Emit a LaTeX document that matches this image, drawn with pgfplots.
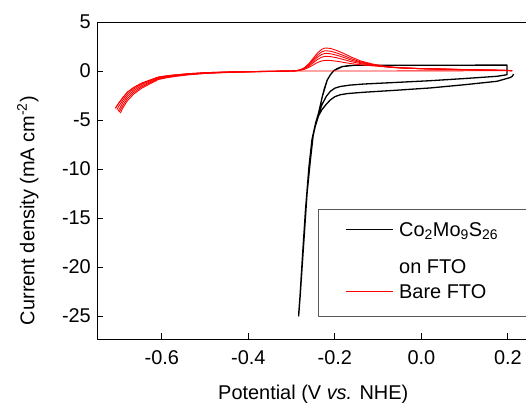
\documentclass[border=0pt]{standalone}
\usepackage{fontspec}
\setmainfont{Liberation Sans}
\usepackage{pgfplots}
\pgfplotsset{compat=1.18}
\newcommand{\fs}{\fontsize{20}{24}\selectfont}
\begin{document}
\begin{tikzpicture}
\path[use as bounding box] (-97bp,-64bp) rectangle (429bp,339bp);
\begin{axis}[
  at={(0,0)}, anchor=south west,
  scale only axis, width=432.5bp, height=317bp,
  xmin=-0.75, xmax=0.25, ymin=-27.35, ymax=5,
  xtick={-0.6,-0.4,-0.2,0,0.2}, xticklabels={-0.6,-0.4,-0.2,0.0,0.2},
  ytick={-25,-20,-15,-10,-5,0,5}, yticklabels={-25,-20,-15,-10,-5,0,5},
  minor tick num=0,
  tick align=inside, tick pos=left,
  major tick length=5.7bp,
  axis line style={line width=0.9bp},
  every tick/.style={black, line width=0.9bp},
  tick label style={font=\fs},
  xticklabel style={inner sep=0pt, yshift=-11.7bp},
  yticklabel style={inner sep=0pt, xshift=-6bp},
  xlabel={Potential (V \textit{vs.} NHE)},
  ylabel={Current density (mA cm\textsuperscript{-2})},
  label style={font=\fs},
  xlabel style={at={(axis description cs:0.5,-0.145)}, anchor=north, inner sep=0pt},
  ylabel style={at={(axis description cs:-0.185,0.405)}, anchor=north, inner sep=0pt},
  legend style={at={(axis description cs:0.510,0.410)}, anchor=north west,
    draw=black!65, line width=0.6bp, inner xsep=27bp, inner ysep=13bp,
    column sep=6bp, row sep=10.7bp, font=\fs,
    nodes={inner sep=0pt, text height=14.5bp, text depth=0bp},
    cells={anchor=base west}},
  legend image code/.code={\draw[#1] (0bp,7bp) -- (47bp,7bp);},
  line join=round,
]
% Co2Mo9S26 on FTO (two cycles)
\addplot[black, line width=1.3bp] coordinates {
(0.2134,-0.31) (0.2100,-0.55) (0.2058,-0.66) (0.1900,-0.86) (0.1750,-1.05)
(0.1000,-1.40) (0.0208,-1.73) (-0.0600,-1.97) (-0.1334,-2.17) (-0.1700,-2.30)
(-0.1873,-2.42) (-0.2000,-2.62) (-0.2104,-2.95) (-0.2200,-3.40) (-0.2300,-3.95)
(-0.2380,-4.60) (-0.2450,-5.60) (-0.2500,-6.50) (-0.2566,-9.10) (-0.2643,-12.5)
(-0.2721,-17.6) (-0.2798,-22.7) (-0.2837,-25.0)
(-0.2810,-23.3) (-0.2750,-19.0) (-0.2680,-14.2) (-0.2600,-9.8) (-0.2530,-7.0)
(-0.2450,-5.4) (-0.2382,-4.4) (-0.2330,-3.4) (-0.2296,-2.7) (-0.2240,-1.75)
(-0.2180,-0.95) (-0.2104,-0.38) (-0.2028,0.02) (-0.1950,0.24) (-0.1834,0.44)
(-0.1700,0.54) (-0.1550,0.58) (0.0000,0.59) (0.1980,0.60) (0.1980,-0.38)
(0.1750,-0.54) (0.1000,-0.77) (0.0208,-0.99) (-0.0600,-1.17) (-0.1334,-1.33)
(-0.1650,-1.44) (-0.1873,-1.58) (-0.2000,-1.75) (-0.2104,-2.07) (-0.2200,-2.60)
(-0.2300,-3.45) (-0.2380,-4.40) (-0.2450,-5.50) (-0.2510,-6.80) (-0.2570,-9.2)
(-0.2645,-12.6) (-0.2722,-17.7) (-0.2800,-22.8) (-0.2835,-24.7)
(-0.2805,-22.9) (-0.2745,-18.6) (-0.2675,-13.9) (-0.2595,-9.6) (-0.2525,-6.9)
(-0.2445,-5.3) (-0.2378,-4.3) (-0.2290,-2.6) (-0.2175,-0.90) (-0.2100,-0.36)
(-0.2025,0.03) (-0.1830,0.45) (-0.1550,0.58) (0.1980,0.60)
};
\addlegendentry{\makebox[100bp][l]{Co\textsubscript{2}Mo\textsubscript{9}S\textsubscript{26}}}
\addlegendimage{empty legend}
\addlegendentry[text height=0pt, text depth=0pt]{\mbox{}}
\addlegendimage{empty legend}
\addlegendentry{on FTO}
% Bare FTO: forward sweep
\addplot[red, line width=0.9bp] coordinates {
(0.21,0.03) (0.10,0.02) (0.00,0.01) (-0.10,0.00) (-0.20,0.00) (-0.30,0.00)
(-0.350,-0.03) (-0.400,-0.06) (-0.450,-0.10) (-0.500,-0.17) (-0.540,-0.28)
(-0.570,-0.40) (-0.590,-0.50) (-0.608,-0.62) (-0.627,-0.92) (-0.647,-1.25)
(-0.665,-1.68) (-0.680,-2.18) (-0.690,-2.70) (-0.700,-3.30) (-0.7075,-3.80)
};
\addlegendentry[text depth=4bp]{Bare FTO}
% Bare FTO: return sweeps, 5 cycles
\addplot[red, line width=0.9bp, forget plot] coordinates {
(-0.7075,-3.80) (-0.700,-3.30) (-0.690,-2.70) (-0.680,-2.18) (-0.665,-1.68)
(-0.647,-1.25) (-0.627,-0.92) (-0.608,-0.62) (-0.590,-0.50) (-0.570,-0.40)
(-0.540,-0.28) (-0.500,-0.17) (-0.450,-0.10) (-0.400,-0.06) (-0.350,-0.03)
(-0.30,0.0) (-0.29,0.03) (-0.28,0.12) (-0.27,0.35) (-0.26,0.75) (-0.25,1.30)
(-0.24,1.85) (-0.23,2.22) (-0.222,2.35) (-0.21,2.30) (-0.195,2.08) (-0.18,1.80)
(-0.16,1.38) (-0.14,1.02) (-0.114,0.72) (-0.09,0.52) (-0.068,0.40) (-0.04,0.32)
(0.00,0.25) (0.05,0.20) (0.10,0.15) (0.15,0.10) (0.20,0.06) (0.21,0.03)
};
\addplot[red, line width=0.9bp, forget plot] coordinates {
(-0.7040,-3.95) (-0.700,-3.62) (-0.690,-2.95) (-0.680,-2.38) (-0.665,-1.83)
(-0.647,-1.36) (-0.627,-1.00) (-0.608,-0.68) (-0.590,-0.55) (-0.570,-0.44)
(-0.540,-0.31) (-0.500,-0.19) (-0.450,-0.11) (-0.400,-0.07) (-0.350,-0.03)
(-0.30,0.0) (-0.29,0.03) (-0.28,0.11) (-0.27,0.32) (-0.26,0.68) (-0.25,1.15)
(-0.24,1.63) (-0.23,1.96) (-0.222,2.07) (-0.21,2.02) (-0.195,1.83) (-0.18,1.58)
(-0.16,1.22) (-0.14,0.92) (-0.114,0.68) (-0.09,0.50) (-0.068,0.39) (-0.04,0.31)
(0.00,0.24) (0.05,0.19) (0.10,0.14) (0.15,0.10) (0.20,0.06) (0.21,0.03)
};
\addplot[red, line width=0.9bp, forget plot] coordinates {
(-0.7010,-4.10) (-0.690,-3.20) (-0.680,-2.60) (-0.665,-2.00)
(-0.647,-1.50) (-0.627,-1.10) (-0.608,-0.75) (-0.590,-0.60) (-0.570,-0.48)
(-0.540,-0.34) (-0.500,-0.21) (-0.450,-0.13) (-0.400,-0.08) (-0.350,-0.04)
(-0.30,0.0) (-0.29,0.03) (-0.28,0.10) (-0.27,0.28) (-0.26,0.60) (-0.25,1.00)
(-0.24,1.42) (-0.23,1.70) (-0.222,1.80) (-0.21,1.76) (-0.195,1.60) (-0.18,1.39)
(-0.16,1.08) (-0.14,0.84) (-0.114,0.64) (-0.09,0.49) (-0.068,0.38) (-0.04,0.30)
(0.00,0.24) (0.05,0.19) (0.10,0.14) (0.15,0.10) (0.20,0.06) (0.21,0.03)
};
\addplot[red, line width=0.9bp, forget plot] coordinates {
(-0.6990,-4.20) (-0.690,-3.50) (-0.680,-2.82) (-0.665,-2.18)
(-0.647,-1.63) (-0.627,-1.20) (-0.608,-0.81) (-0.590,-0.65) (-0.570,-0.52)
(-0.540,-0.37) (-0.500,-0.23) (-0.450,-0.14) (-0.400,-0.09) (-0.350,-0.04)
(-0.30,0.0) (-0.29,0.02) (-0.28,0.09) (-0.27,0.24) (-0.26,0.50) (-0.25,0.84)
(-0.24,1.18) (-0.23,1.42) (-0.222,1.50) (-0.21,1.47) (-0.195,1.34) (-0.18,1.17)
(-0.16,0.93) (-0.14,0.75) (-0.114,0.60) (-0.09,0.47) (-0.068,0.37) (-0.04,0.30)
(0.00,0.23) (0.05,0.18) (0.10,0.13) (0.15,0.09) (0.20,0.05) (0.21,0.03)
};
\addplot[red, line width=0.9bp, forget plot] coordinates {
(-0.6960,-4.30) (-0.690,-3.75) (-0.680,-3.05) (-0.665,-2.35)
(-0.647,-1.77) (-0.627,-1.30) (-0.608,-0.87) (-0.590,-0.70) (-0.570,-0.56)
(-0.540,-0.40) (-0.500,-0.25) (-0.450,-0.16) (-0.400,-0.10) (-0.350,-0.05)
(-0.30,0.0) (-0.29,0.02) (-0.28,0.07) (-0.27,0.18) (-0.26,0.37) (-0.25,0.62)
(-0.24,0.87) (-0.23,1.03) (-0.222,1.09) (-0.21,1.07) (-0.195,0.99) (-0.18,0.88)
(-0.16,0.74) (-0.14,0.63) (-0.114,0.53) (-0.09,0.44) (-0.068,0.36) (-0.04,0.29)
(0.00,0.23) (0.05,0.18) (0.10,0.13) (0.15,0.09) (0.20,0.05) (0.21,0.03)
};
\end{axis}
\end{tikzpicture}
\end{document}
